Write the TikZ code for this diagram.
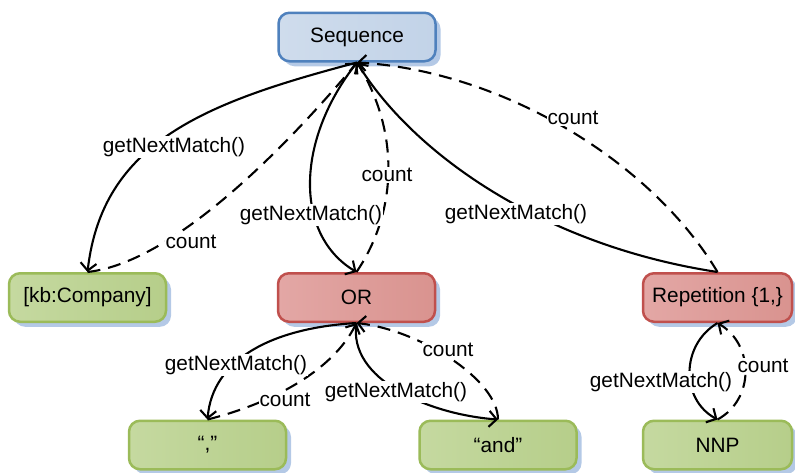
\documentclass[tikz,border=0pt]{standalone}
\usepackage{fontspec}
\setmainfont{Liberation Sans}
\usetikzlibrary{arrows.meta,shadows}

\definecolor{blueline}{HTML}{4F81BD}
\definecolor{blueA}{HTML}{CFDCEC}
\definecolor{blueB}{HTML}{C2D3E8}
\definecolor{greenline}{HTML}{9BBB59}
\definecolor{greenA}{HTML}{C5D9A0}
\definecolor{greenB}{HTML}{B6CE8A}
\definecolor{redline}{HTML}{C0504D}
\definecolor{redA}{HTML}{E3A7A5}
\definecolor{redB}{HTML}{D9938F}
\definecolor{shadowblue}{HTML}{B4C9E6}

\begin{document}
\begin{tikzpicture}[x=1pt,y=-1pt,
  txt/.style={font=\fontsize{20.8}{24}\selectfont},
  box/.style={txt, rounded corners=11pt, line width=2.5pt,
    minimum width=157pt, minimum height=48.5pt, inner sep=0pt,
    drop shadow={shadow xshift=5pt, shadow yshift=-5pt, fill=shadowblue, opacity=1}},
  bluebox/.style={box, draw=blueline, left color=blueA, right color=blueB},
  greenbox/.style={box, draw=greenline, left color=greenA, right color=greenB},
  redbox/.style={box, draw=redline, left color=redA, right color=redB},
  link/.style={line width=2.1pt},
  call/.style={link, -{Straight Barb[length=7.5pt,width=16pt]}},
  reply/.style={call, dash pattern=on 13pt off 8pt},
  lbl/.style={txt, fill=white, inner sep=1pt}
]
\useasboundingbox (0,0) rectangle (795,472);

% matcher tree
\node[bluebox] (seq) at (357,37) {Sequence};
\node[greenbox] (kb) at (87.5,297.5) {[kb:Company]};
\node[redbox] (or) at (356.5,297.5) {OR};
\node[redbox, minimum width=149pt] (rep) at (717.5,297.5) {Repetition \{1,\}};
\node[greenbox] (comma) at (207.5,445) {“,”};
\node[greenbox] (and) at (498,445) {“and”};
\node[greenbox, minimum width=149pt] (nnp) at (717.5,445) {NNP};

% Sequence and its children
\draw[call] (seq.south) .. controls +(-152,40) and +(15,-130) .. (kb.north);
\draw[reply] (kb.north) .. controls +(92,-10) and +(-57,68) .. (seq.south);
\draw[call] (seq.south) .. controls +(-62,78) and +(-62,-37) .. (or.north);
\draw[reply] (or.north) .. controls +(42,-62) and +(42,68) .. (seq.south);
\draw[link] (seq.south) .. controls +(53,88) and +(-178,-27) .. (rep.north);
\draw[reply] (rep.north) .. controls +(-67,-112) and +(143,8) .. (seq.south);

% OR and its children
\draw[call] (or.south) .. controls +(-85,5) and +(5,-60) .. (comma.north);
\draw[reply] (comma.north) .. controls +(60,-15) and +(-25,50) .. (or.south);
\draw[call] (or.south) .. controls +(-9,57) and +(-68,-5) .. (and.north);
\draw[reply] (and.north) .. controls +(0,-40) and +(63,7) .. (or.south);

% Repetition and its child
\draw[call] (rep.south) .. controls +(-37,22) and +(-37,-20) .. (nnp.north);
\draw[reply] (nnp.north) .. controls +(37,-20) and +(37,22) .. (rep.south);

% edge labels
\node[lbl] (l1) at (174,147) {getNextMatch()};
\node[lbl] (l2) at (191,242) {count};
\node[lbl] (l3) at (311,215) {getNextMatch()};
\node[lbl] (l4) at (387,175) {count};
\node[lbl] (l5) at (516,214) {getNextMatch()};
\node[lbl] (l6) at (573,118) {count};
\node[lbl] (l7) at (236,365) {getNextMatch()};
\node[lbl] (l8) at (285,400) {count};
\node[lbl] (l9) at (396,392) {getNextMatch()};
\node[lbl] (l10) at (448,350) {count};
\node[lbl] (l11) at (661,382) {getNextMatch()};
\node[lbl] (l12) at (763,366) {count};
\end{tikzpicture}
\end{document}
